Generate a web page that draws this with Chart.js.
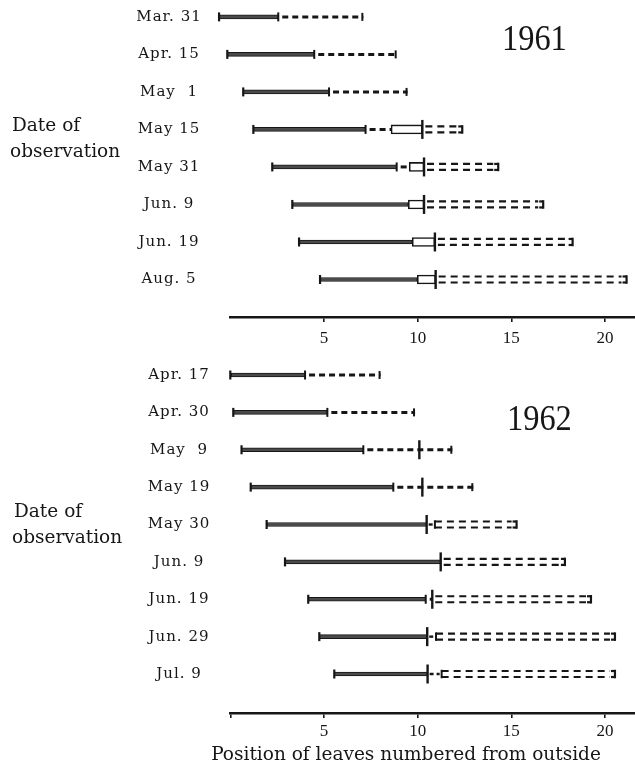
<!DOCTYPE html>
<html>
<head>
<meta charset="utf-8">
<script src="https://cdn.jsdelivr.net/npm/chart.js@4.4.1/dist/chart.umd.min.js"></script>
<style>
  html, body { margin: 0; padding: 0; background: #fff; }
  #wrap { position: relative; width: 635px; height: 778px; overflow: hidden; background: #fff; }
  canvas { position: absolute; left: 0; }
  #c61 { top: 0; width: 635px; height: 350px; }
  #c62 { top: 350px; width: 635px; height: 428px; }
</style>
</head>
<body>
<div id="wrap">
  <canvas id="c61" width="635" height="350"></canvas>
  <canvas id="c62" width="635" height="428"></canvas>
</div>
<script>
// ---- 1961 ----
const dates1961 = ['Mar. 31', 'Apr. 15', 'May  1', 'May 15', 'May 31', 'Jun. 9', 'Jun. 19', 'Aug. 5'];
const start1961 = [-0.6, -0.16, 0.69, 1.23, 2.24, 3.31, 3.67, 4.79];   // outermost leaf
const solid1961 = [2.56, 4.48, 5.27, 7.22, 8.88, 9.5, 9.71, 9.98];     // end of solid segment
const dash1961  = [7.1, 8.88, 9.46, 8.58, 9.55, null, null, null];     // end of single dashed segment
const box1961   = [null, null, null, 8.58, 9.55, 9.5, 9.71, 9.98];     // open box start
const mark1961  = [null, null, null, 10.25, 10.34, 10.34, 10.92, 10.96]; // tall marker
const ddFrom1961 = [null, null, null, 10.25, 10.34, 10.34, 10.92, 10.96];
const ddTo1961   = [null, null, null, 12.38, 14.3, 16.7, 18.27, 21.15];

// ---- 1962 ----
const dates1962 = ['Apr. 17', 'Apr. 30', 'May  9', 'May 19', 'May 30', 'Jun. 9', 'Jun. 19', 'Jun. 29', 'Jul. 9'];
const start1962 = [0, 0.16, 0.6, 1.09, 1.94, 2.92, 4.16, 4.75, 5.55];
const solid1962 = [3.99, 5.18, 7.1, 8.7, 10.48, 11.23, 10.43, 10.51, 10.53];
const dash1962  = [8.02, 9.86, 11.85, 12.97, null, null, 10.78, null, null];
const box1962   = [null, null, null, null, null, null, null, null, null];
const mark1962  = [null, null, 10.09, 10.25, 10.48, 11.23, 10.78, 10.51, 10.53];
const ddFrom1962 = [null, null, null, null, 10.92, 11.23, 10.78, 10.98, 11.28];
const ddTo1962   = [null, null, null, null, 15.28, 17.86, 19.25, 20.53, 20.53];

const xTickValues = [5, 10, 15, 20];

const INK = '#161616';
const SERIF = '"DejaVu Serif", serif';

function vline(ctx, x, y, h, w) {
  ctx.lineWidth = w;
  ctx.beginPath();
  ctx.moveTo(x, y - h / 2);
  ctx.lineTo(x, y + h / 2);
  ctx.stroke();
}
function dashLine(ctx, x1, x2, y, dash, gap, w) {
  if (x2 <= x1) return;
  ctx.save();
  ctx.lineWidth = w;
  ctx.lineCap = 'butt';
  ctx.setLineDash([dash, gap]);
  ctx.beginPath();
  ctx.moveTo(x1, y);
  ctx.lineTo(x2, y);
  ctx.stroke();
  ctx.restore();
}

function rowMarks(panel) {
  return {
    id: 'rowMarks',
    afterDatasetsDraw(chart) {
      const ctx = chart.ctx, xs = chart.scales.x, ys = chart.scales.y;
      const X = v => xs.getPixelForValue(v);
      ctx.save();
      ctx.strokeStyle = INK;
      ctx.fillStyle = INK;
      panel.dates.forEach((d, i) => {
        const y = ys.getPixelForValue(i);
        const s = X(panel.start[i]), e = X(panel.solid[i]);
        // start tick
        vline(ctx, s, y, 9, 2.2);
        // tick at the end of the solid segment
        const joinsBox = panel.box[i] !== null && Math.abs(panel.box[i] - panel.solid[i]) < 0.05;
        const joinsMark = panel.mark[i] !== null && Math.abs(panel.mark[i] - panel.solid[i]) < 0.05;
        if (!joinsBox && !joinsMark) vline(ctx, e, y, 9, 2);
        // single dashed segment
        if (panel.dash[i] !== null) {
          const de = X(panel.dash[i]);
          dashLine(ctx, e + 4, de, y, 6, 4, 3);
          const endsAtBox = panel.box[i] !== null;
          const endsAtMark = panel.mark[i] !== null && panel.dash[i] <= panel.mark[i] + 0.2;
          if (!endsAtBox && !endsAtMark && panel.ddTo[i] === null) {
            vline(ctx, de - 1, y, 8, 2);
          }
        }
        // tall marker
        if (panel.mark[i] !== null) {
          vline(ctx, X(panel.mark[i]), y, 19, 2.4);
        }
        // double dashed segment with brackets
        if (panel.ddTo[i] !== null) {
          const a = X(panel.ddFrom[i]), b = X(panel.ddTo[i]);
          const bracketStart = panel.mark[i] !== null && panel.ddFrom[i] > panel.mark[i] + 0.2;
          if (bracketStart) {
            const m = X(panel.mark[i]);
            dashLine(ctx, m + 2, a - 2, y, 4, 3, 2.4);
            vline(ctx, a, y, 8.5, 2);
          }
          const from = a + (bracketStart ? 0 : 3);
          for (const off of [-3, 3]) {
            dashLine(ctx, from, b - 5, y + off, 7, 5, 2.2);
            ctx.lineWidth = 2.2;
            ctx.beginPath();
            ctx.moveTo(b - 4, y + off);
            ctx.lineTo(b, y + off);
            ctx.stroke();
          }
          vline(ctx, b, y, 8.5, 2.2);
        }
      });
      ctx.restore();
    },
    afterDraw(chart) {
      const ctx = chart.ctx, ys = chart.scales.y;
      ctx.save();
      ctx.fillStyle = INK;
      ctx.textBaseline = 'middle';
      ctx.textAlign = 'center';
      ctx.font = '15px ' + SERIF;
      if ('letterSpacing' in ctx) ctx.letterSpacing = '1px';
      panel.dates.forEach((d, i) => {
        ctx.fillText(d, panel.labelX, ys.getPixelForValue(i));
      });
      if ('letterSpacing' in ctx) ctx.letterSpacing = '0px';
      ctx.textAlign = 'left';
      ctx.textBaseline = 'alphabetic';
      ctx.font = '18.5px ' + SERIF;
      ctx.fillText('Date of', panel.sideX, panel.sideY);
      ctx.fillText('observation', panel.sideX - 2, panel.sideY + 26);
      ctx.font = '36px "Liberation Serif", serif';
      ctx.save();
      ctx.translate(panel.yearX, panel.yearY);
      ctx.scale(0.9, 1);
      ctx.fillText(panel.year, 0, 0);
      ctx.restore();
      if (panel.title) {
        ctx.font = '18.5px ' + SERIF;
        ctx.textAlign = 'center';
        ctx.fillText(panel.title, panel.titleX, panel.titleY);
      }
      ctx.restore();
    }
  };
}

function makeChart(canvasId, panel, yMin, yMax, axisHeight, showZeroTick) {
  const rows = panel.dates.map((d, i) => i);
  const solidData = rows.map(i => ({ x: [panel.start[i], panel.solid[i]], y: i }));
  const boxData = rows.filter(i => panel.box[i] !== null)
                      .map(i => ({ x: [panel.box[i], panel.mark[i]], y: i }));
  return new Chart(document.getElementById(canvasId), {
    type: 'bar',
    data: {
      datasets: [
        {
          label: 'solid',
          data: solidData,
          backgroundColor: '#4a4a4a',
          borderColor: INK,
          borderWidth: 1,
          borderSkipped: false,
          barThickness: 4,
          grouped: false,
          clip: false
        },
        {
          label: 'box',
          data: boxData,
          backgroundColor: '#ffffff',
          borderColor: INK,
          borderWidth: 1.6,
          borderSkipped: false,
          barThickness: 9,
          grouped: false,
          clip: false
        }
      ]
    },
    options: {
      indexAxis: 'y',
      responsive: false,
      animation: false,
      devicePixelRatio: 1,
      layout: { padding: { left: 230.3, right: 0, top: 0, bottom: 0 } },
      plugins: { legend: { display: false }, tooltip: { enabled: false }, title: { display: false } },
      scales: {
        x: {
          type: 'linear',
          min: 0,
          max: 21.6,
          position: 'bottom',
          afterBuildTicks: s => {
            s.ticks = [0].concat(xTickValues).map(v => ({ value: v }));
          },
          ticks: {
            callback: v => (v === 0 ? '' : String(v)),
            font: { family: '"Liberation Serif", serif', size: 17 },
            color: INK,
            padding: panel.tickPad,
            maxRotation: 0,
            autoSkip: false
          },
          grid: {
            drawOnChartArea: false,
            drawTicks: true,
            tickLength: 5,
            lineWidth: 1.6,
            color: c => (c.tick && c.tick.value === 0 && !showZeroTick) ? 'rgba(0,0,0,0)' : INK
          },
          border: { display: true, color: INK, width: 2.5 },
          afterFit: s => { s.height = axisHeight; }
        },
        y: {
          type: 'linear',
          min: yMin,
          max: yMax,
          reverse: true,
          offset: false,
          display: false
        }
      }
    },
    plugins: [rowMarks(panel)]
  });
}

makeChart('c61', {
  dates: dates1961, start: start1961, solid: solid1961, dash: dash1961, box: box1961,
  mark: mark1961, ddFrom: ddFrom1961, ddTo: ddTo1961,
  labelX: 169, sideX: 12, sideY: 131, year: '1961', yearX: 502, yearY: 50, tickPad: 6
}, -0.45, 8, 33, false);

makeChart('c62', {
  dates: dates1962, start: start1962, solid: solid1962, dash: dash1962, box: box1962,
  mark: mark1962, ddFrom: ddFrom1962, ddTo: ddTo1962,
  labelX: 179, sideX: 14, sideY: 167, year: '1962', yearX: 507, yearY: 80, tickPad: 3,
  title: 'Position of leaves numbered from outside', titleX: 406, titleY: 410
}, -0.669, 9.043, 65, true);
</script>
</body>
</html>
